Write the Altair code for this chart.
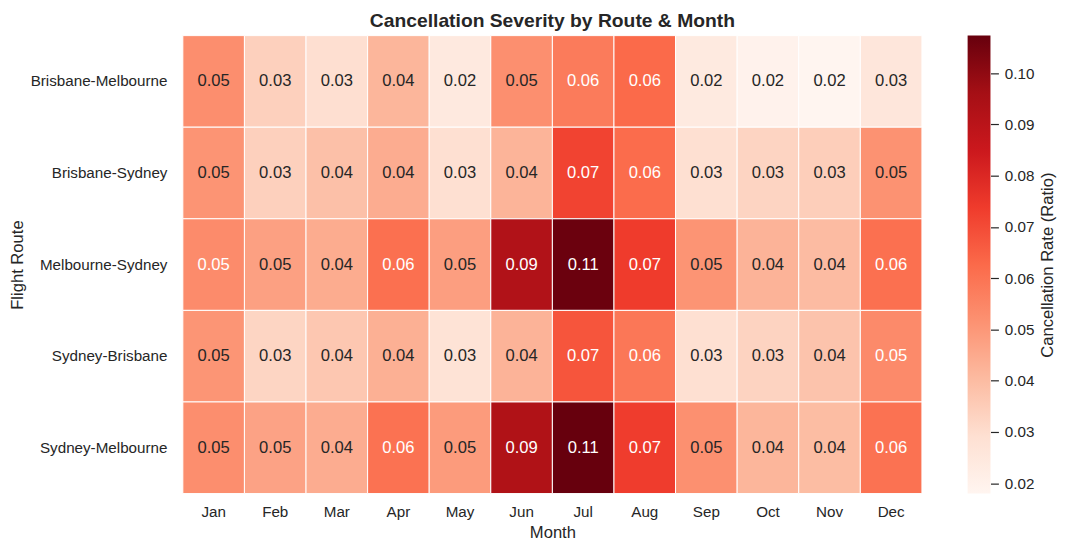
import altair as alt
import pandas as pd

months = ["Jan", "Feb", "Mar", "Apr", "May", "Jun", "Jul", "Aug", "Sep", "Oct", "Nov", "Dec"]
routes = ["Brisbane-Melbourne", "Brisbane-Sydney", "Melbourne-Sydney", "Sydney-Brisbane", "Sydney-Melbourne"]

brisbane_melbourne = [0.0527, 0.0340, 0.0294, 0.0417, 0.0245, 0.0522, 0.0580, 0.0627, 0.0238, 0.0195, 0.0180, 0.0258]
brisbane_sydney    = [0.0510, 0.0340, 0.0388, 0.0444, 0.0290, 0.0422, 0.0719, 0.0620, 0.0292, 0.0328, 0.0346, 0.0515]
melbourne_sydney   = [0.0535, 0.0477, 0.0445, 0.0610, 0.0482, 0.0925, 0.1065, 0.0738, 0.0510, 0.0425, 0.0402, 0.0610]
sydney_brisbane    = [0.0508, 0.0326, 0.0367, 0.0434, 0.0276, 0.0425, 0.0677, 0.0590, 0.0290, 0.0330, 0.0379, 0.0537]
sydney_melbourne   = [0.0525, 0.0470, 0.0443, 0.0605, 0.0490, 0.0928, 0.1073, 0.0736, 0.0520, 0.0417, 0.0398, 0.0605]

series = [brisbane_melbourne, brisbane_sydney, melbourne_sydney, sydney_brisbane, sydney_melbourne]
colorbar_ticks = [0.02, 0.03, 0.04, 0.05, 0.06, 0.07, 0.08, 0.09, 0.10]

rows = []
for r, vals in zip(routes, series):
    for m, v in zip(months, vals):
        rows.append({"route": r, "month": m, "value": v})
df = pd.DataFrame(rows)

vmin = float(df["value"].min())
vmax = float(df["value"].max())

reds = ["#fff5f0", "#fee0d2", "#fcbba1", "#fc9272", "#fb6a4a",
        "#ef3b2c", "#cb181d", "#a50f15", "#67000d"]
n = len(reds) - 1
color_domain = [vmin + (vmax - vmin) * i / n for i in range(n + 1)]

TXT = "#262626"
W, H = 744, 461

base = alt.Chart(df)

rects = base.mark_rect(stroke="white", strokeWidth=1).encode(
    x=alt.X("month:N", sort=months, scale=alt.Scale(paddingInner=0, paddingOuter=0),
            axis=alt.Axis(title="Month", labelAngle=0, ticks=False, tickSize=0, domain=False,
                          labelPadding=11, labelFontSize=15.3, titleFontSize=16.7,
                          titleFontWeight="normal", titlePadding=5)),
    y=alt.Y("route:N", sort=routes, scale=alt.Scale(paddingInner=0, paddingOuter=0),
            axis=alt.Axis(title="Flight Route", ticks=False, tickSize=0, domain=False,
                          labelPadding=16, labelFontSize=15.3, titleFontSize=16.7,
                          titleFontWeight="normal", titlePadding=4, labelLimit=300)),
    color=alt.Color("value:Q", legend=None,
                    scale=alt.Scale(domain=color_domain, range=reds, interpolate="rgb")),
)

texts = base.mark_text(fontSize=16.7, font="Liberation Sans").encode(
    x=alt.X("month:N", sort=months),
    y=alt.Y("route:N", sort=routes),
    text=alt.Text("value:Q", format=".2f"),
    color=alt.condition(alt.datum.value > 0.0531, alt.value("white"), alt.value(TXT)),
)

heat = alt.layer(rects, texts)

cb_df = pd.DataFrame({"lo": [vmin], "hi": [vmax]})
gradient = alt.Gradient(
    gradient="linear",
    stops=[alt.GradientStop(offset=i / n, color=c) for i, c in enumerate(reds)],
    x1=0, x2=0, y1=1, y2=0,
)
cbar = alt.Chart(cb_df).mark_rect(fill=gradient).encode(
    x=alt.value(790),
    x2=alt.value(813),
    y=alt.Y("lo:Q", scale=alt.Scale(domain=[vmin, vmax], nice=False, zero=False),
            axis=alt.Axis(orient="right", offset=69, values=colorbar_ticks, format=".2f",
                          tickSize=8, tickColor=TXT, tickWidth=1.2, domain=False, grid=False,
                          labelFontSize=15.3, labelPadding=6,
                          title="Cancellation Rate (Ratio)", titleFontSize=16.7,
                          titleFontWeight="normal", titleAngle=270,
                          titleX=57, titleY=H / 2, titleAlign="center",
                          titleBaseline="middle")),
    y2="hi:Q",
)

chart = alt.layer(heat, cbar).resolve_scale(y="independent").properties(
    width=W,
    height=H,
    title=alt.TitleParams("Cancellation Severity by Route & Month", fontSize=19.4,
                          fontWeight="bold", color=TXT, anchor="middle", frame="group",
                          offset=4),
    padding={"left": 1, "top": 1, "right": 5, "bottom": 5},
).configure(font="Liberation Sans").configure_axis(
    labelColor=TXT, titleColor=TXT
).configure_view(strokeWidth=0)

chart.save("out.html", embed_options={"renderer": "svg", "actions": False})
